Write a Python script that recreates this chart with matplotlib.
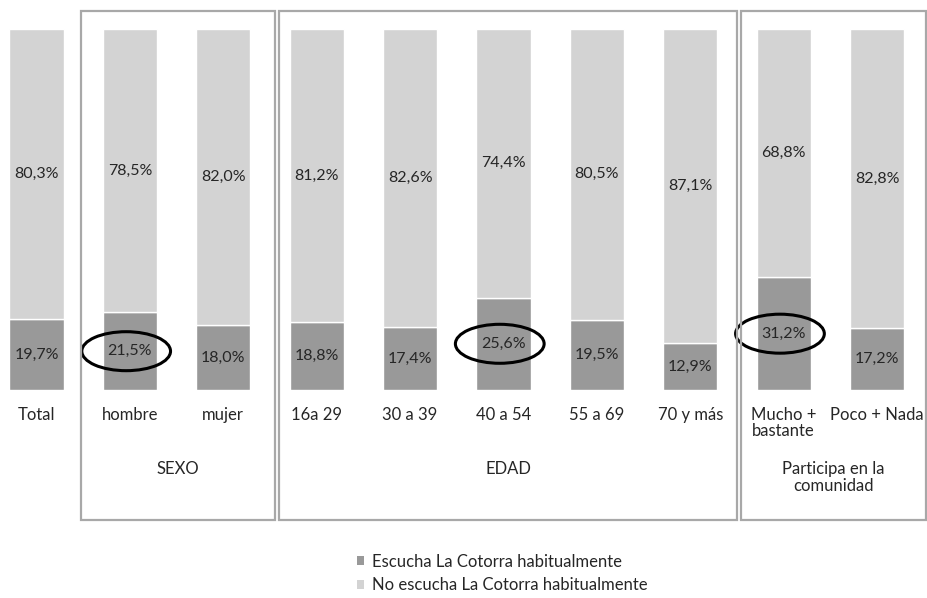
import matplotlib
matplotlib.use("Agg")
import matplotlib.pyplot as plt
from matplotlib.patches import Rectangle, Ellipse, Patch

plt.rcParams['font.family'] = ['Lato', 'DejaVu Sans']

categories = ["Total", "hombre", "mujer", "16a 29", "30 a 39", "40 a 54",
              "55 a 69", "70 y más", "Mucho +\nbastante", "Poco + Nada"]
escucha = [19.7, 21.5, 18.0, 18.8, 17.4, 25.6, 19.5, 12.9, 31.2, 17.2]
no_escucha = [80.3, 78.5, 82.0, 81.2, 82.6, 74.4, 80.5, 87.1, 68.8, 82.8]
highlighted = [1, 5, 8]
groups = ["SEXO", "EDAD", "Participa en la\ncomunidad"]
series_names = ["Escucha La Cotorra habitualmente",
                "No escucha La Cotorra habitualmente"]

W, H = 928, 598
DARK = "#999999"
LIGHT = "#d3d3d3"
TXT = "#262626"

fig = plt.figure(figsize=(W / 100, H / 100), dpi=100)
fig.patch.set_facecolor("white")


def fx(x):
    return x / W


def fy(y):
    return 1 - y / H


# axes: category i centred at 36.5 + 93.4*i px, bars from y=390 (0%) to y=29 (100%)
step = 93.4
x0 = 36.5
ax = fig.add_axes([0, fy(390), 1, (390 - 29) / H])
ax.set_xlim(-x0 / step, (W - x0) / step)
ax.set_ylim(0, 100)
ax.axis("off")

xs = list(range(len(categories)))
ax.bar(xs, escucha, width=0.58, color=DARK, edgecolor="white", linewidth=1.0)
ax.bar(xs, no_escucha, width=0.58, bottom=escucha, color=LIGHT,
       edgecolor="white", linewidth=1.0)


def fmt(v):
    return f"{v:.1f}%".replace(".", ",")


for i, (a, b) in enumerate(zip(escucha, no_escucha)):
    ax.text(i, a / 2, fmt(a), ha="center", va="center", fontsize=11.5, color=TXT)
    ax.text(i, a + b / 2, fmt(b), ha="center", va="center", fontsize=11.5, color=TXT)
    ax.text(i, -4.6, categories[i], ha="center", va="top", fontsize=12,
            color=TXT, linespacing=1.05, clip_on=False)

for i in highlighted:
    ax.add_patch(Ellipse((i - 0.04, escucha[i] / 2), 0.95, 10.8, fill=False,
                         edgecolor="black", linewidth=2.2, clip_on=False))

# group frames
boxes = [(81, 275), (279, 737), (741, 926)]
for (l, r), name in zip(boxes, groups):
    fig.patches.append(Rectangle((fx(l), fy(520)), fx(r - l), (520 - 11) / H,
                                 transform=fig.transFigure, fill=False,
                                 edgecolor="#a8a8a8", linewidth=1.6))
    fig.text(fx((l + r) / 2), fy(461), name, ha="center", va="top",
             fontsize=12, color=TXT, linespacing=1.05)

handles = [Patch(facecolor=DARK, edgecolor="none"),
           Patch(facecolor=LIGHT, edgecolor="none")]
fig.legend(handles, series_names, loc="upper left",
           bbox_to_anchor=(fx(350), fy(547)), frameon=False, fontsize=12,
           handlelength=0.45, handleheight=0.45, handletextpad=0.45,
           labelspacing=0.45, labelcolor=TXT, borderaxespad=0)

fig.savefig("out.png", dpi=100, facecolor="white")
